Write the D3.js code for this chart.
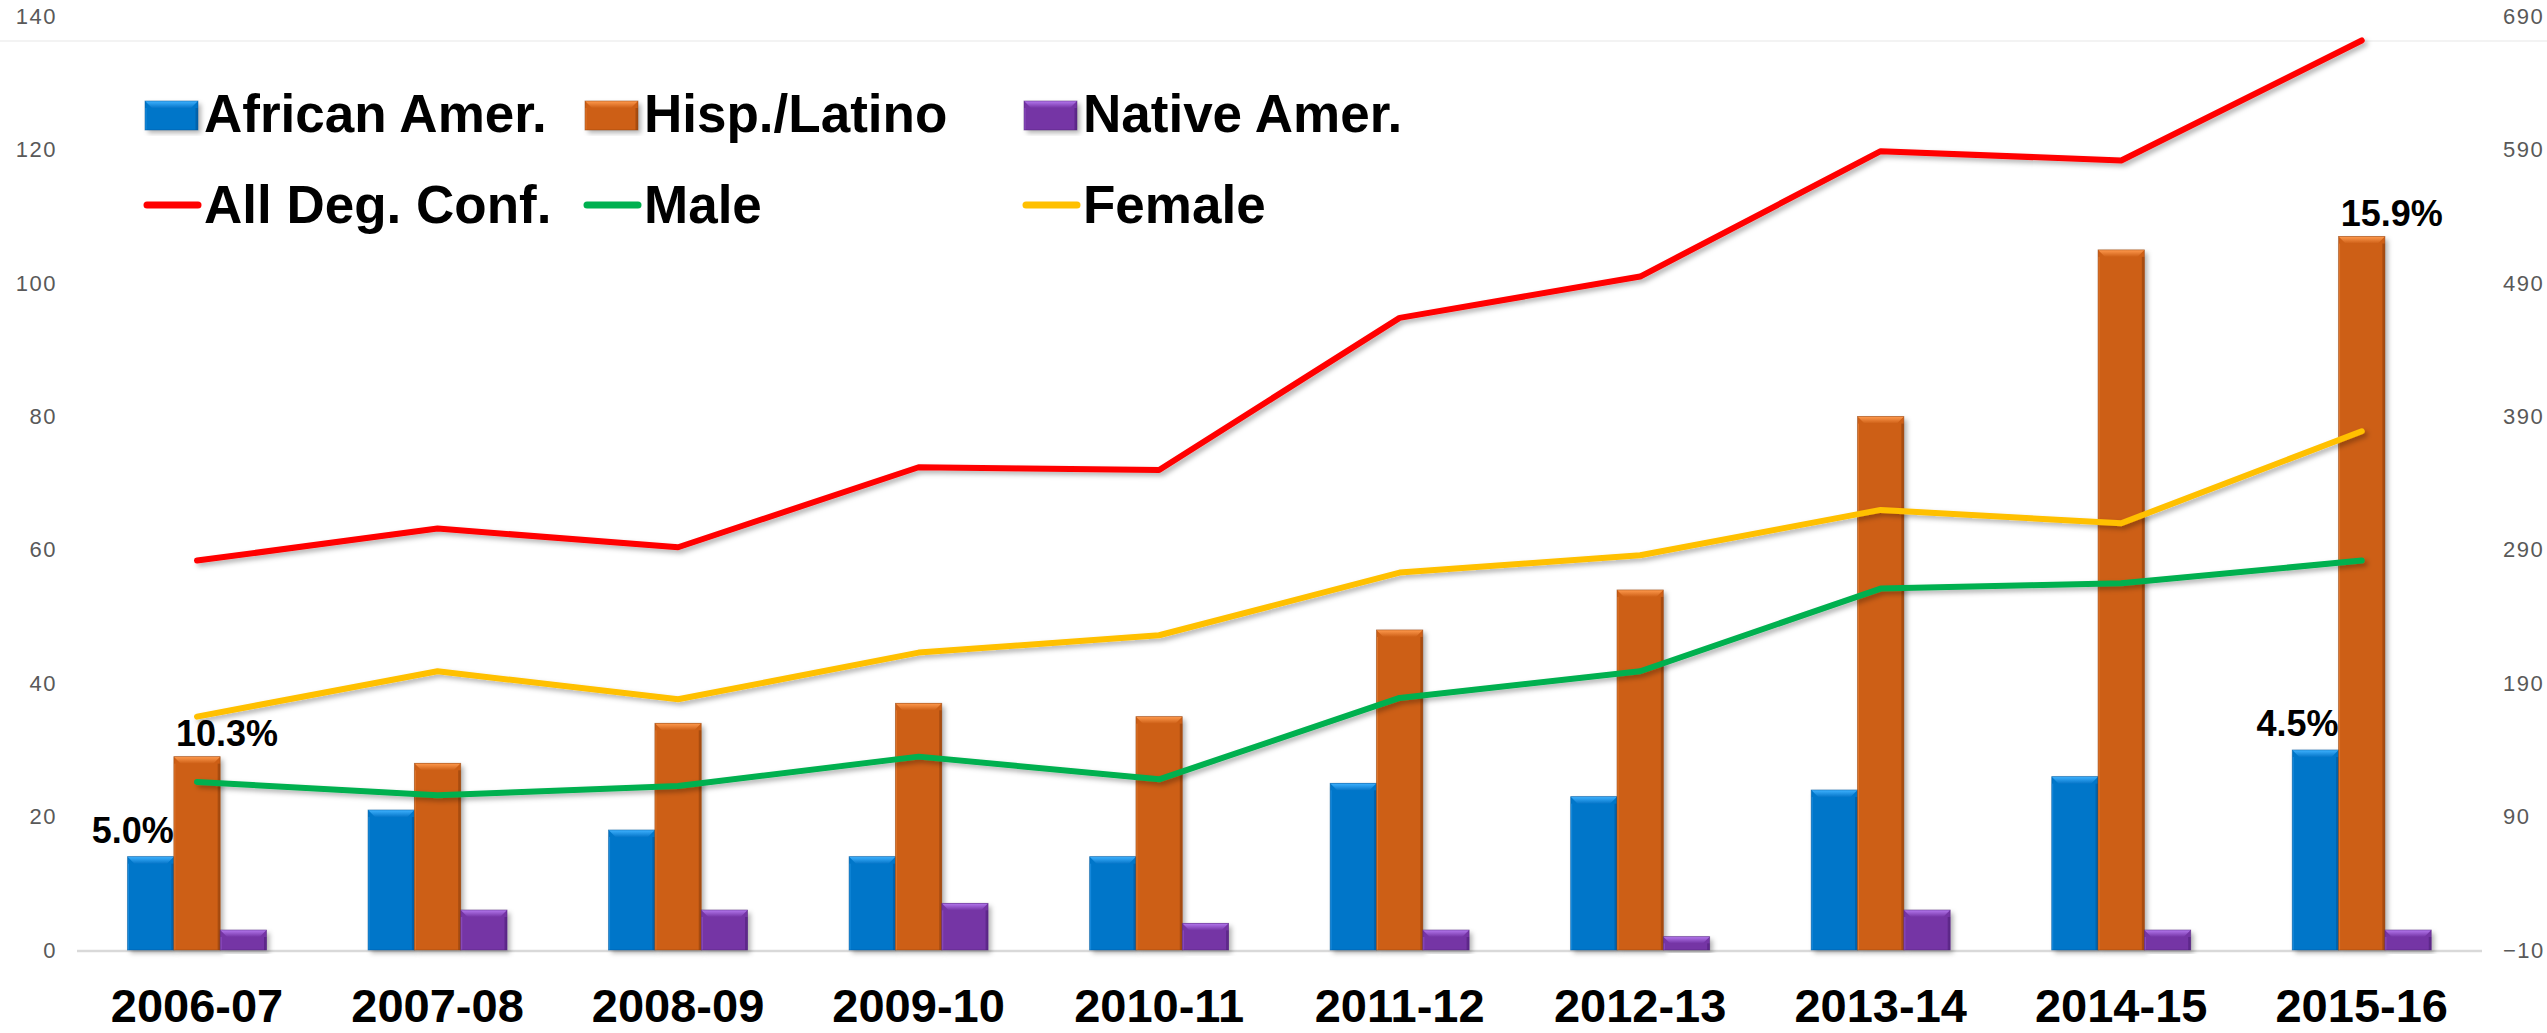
<!DOCTYPE html>
<html>
<head>
<meta charset="utf-8">
<script src="https://cdn.jsdelivr.net/npm/d3@7"></script>
<style>
  html, body { margin: 0; padding: 0; background: #fff; }
  svg { display: block; font-family: Arial, "Liberation Sans", sans-serif; }
</style>
</head>
<body>
<div id="chart"></div>
<script>
// Years on the x axis
const years = ['2006-07', '2007-08', '2008-09', '2009-10', '2010-11',
               '2011-12', '2012-13', '2013-14', '2014-15', '2015-16'];

// Bar series (left axis)
const africanAmer = [14, 21, 18, 14, 14, 25, 23, 24, 26, 30];
const hispLatino  = [29, 28, 34, 37, 35, 48, 54, 80, 105, 107];
const nativeAmer  = [3, 6, 6, 7, 4, 3, 2, 6, 3, 3];

// Line series (right axis)
const allDegConf = [282, 306, 292, 352, 350, 464, 495, 589, 582, 672];
const male       = [116, 106, 113, 135, 118, 179, 199, 261, 265, 282];
const female     = [165, 199, 178, 213, 226, 273, 286, 320, 310, 379];

// Tick labels
const leftTicks  = [0, 20, 40, 60, 80, 100, 120, 140];
const rightTicks = [-10, 90, 190, 290, 390, 490, 590, 690];

// Percentage labels on selected bars
const pctLabels = [
    { year: '2006-07', series: 'African Amer.', text: '5.0%' },
    { year: '2006-07', series: 'Hisp./Latino', text: '10.3%' },
    { year: '2015-16', series: 'African Amer.', text: '4.5%' },
    { year: '2015-16', series: 'Hisp./Latino', text: '15.9%' }
];

const barSeries = [
    { name: 'African Amer.', values: africanAmer, base: '#0676c9', light: '#3fb2ff', dark: '#04569a' },
    { name: 'Hisp./Latino', values: hispLatino, base: '#cd5f16', light: '#ff9a4e', dark: '#8f3f0c' },
    { name: 'Native Amer.', values: nativeAmer, base: '#7434a5', light: '#b478ee', dark: '#4f1f78' }
];
const lineSeries = [
    { name: 'All Deg. Conf.', values: allDegConf, color: '#ff0000' },
    { name: 'Male', values: male, color: '#00b050' },
    { name: 'Female', values: female, color: '#ffc000' }
];

const width = 2547, height = 1033;
const svg = d3.select('#chart').append('svg')
    .attr('width', width)
    .attr('height', height);

const defs = svg.append('defs');
const shadow = defs.append('filter').attr('id', 'shadow')
    .attr('x', '-10%').attr('y', '-10%').attr('width', '130%').attr('height', '130%');
shadow.append('feDropShadow')
    .attr('dx', 3).attr('dy', 3).attr('stdDeviation', 2.5)
    .attr('flood-color', '#000').attr('flood-opacity', 0.3);

barSeries.forEach((s, i) => {
    const g = defs.append('linearGradient').attr('id', 'top' + i)
        .attr('x1', 0).attr('y1', 0).attr('x2', 0).attr('y2', 1);
    g.append('stop').attr('offset', '0%').attr('stop-color', s.light);
    g.append('stop').attr('offset', '100%').attr('stop-color', s.base);
});

// Scales
const x0 = d3.scaleBand().domain(years).range([76.75, 2482]);
const x1 = d3.scaleBand().domain(barSeries.map(s => s.name)).range([-69.5, 69.5]);
const yLeft = d3.scaleLinear().domain([0, 140]).range([950, 16.5]);
const yRight = d3.scaleLinear().domain([-10, 690]).range([950, 16.5]);
const cx = d => x0(d) + x0.bandwidth() / 2;

// Faint top line
svg.append('line')
    .attr('x1', 0).attr('x2', width)
    .attr('y1', 41).attr('y2', 41)
    .attr('stroke', '#f3f3f3').attr('stroke-width', 2);

// Axes
const leftAxis = svg.append('g')
    .attr('transform', 'translate(60,0)')
    .call(d3.axisLeft(yLeft).tickValues(leftTicks).tickSize(0).tickPadding(3));
const rightAxis = svg.append('g')
    .attr('transform', 'translate(2500,0)')
    .call(d3.axisRight(yRight).tickValues(rightTicks).tickSize(0).tickPadding(3));
[leftAxis, rightAxis].forEach(a => {
    a.select('.domain').remove();
    a.selectAll('text')
        .style('font-family', 'Arial, "Liberation Sans", sans-serif')
        .style('font-size', '22px')
        .style('letter-spacing', '1.5px')
        .style('fill', '#595959');
});

// Baseline
svg.append('line')
    .attr('x1', 77).attr('x2', 2482)
    .attr('y1', 951).attr('y2', 951)
    .attr('stroke', '#d9d9d9').attr('stroke-width', 2.5);

// Bars with a bevel look
const bev = 7;
function drawBar(g, x, y, w, h, i) {
    const s = barSeries[i];
    const b = Math.min(bev, h / 2);
    g.append('rect').attr('x', x).attr('y', y).attr('width', w).attr('height', h)
        .attr('fill', s.base).attr('filter', 'url(#shadow)');
    g.append('path')
        .attr('d', `M${x},${y}L${x + w},${y}L${x + w - b},${y + b}L${x + b},${y + b}Z`)
        .attr('fill', `url(#top${i})`);
    g.append('rect').attr('x', x + w - 2.5).attr('y', y + b).attr('width', 2.5).attr('height', h - b)
        .attr('fill', s.dark).attr('opacity', 0.6);
    g.append('rect').attr('x', x).attr('y', y + b).attr('width', 1.5).attr('height', h - b)
        .attr('fill', s.light).attr('opacity', 0.35);
    g.append('rect').attr('x', x).attr('y', y).attr('width', w).attr('height', h)
        .attr('fill', 'none').attr('stroke', s.dark).attr('stroke-width', 0.8).attr('stroke-opacity', 0.6);
}

const barsG = svg.append('g');
years.forEach((yr, j) => {
    barSeries.forEach((s, i) => {
        const x = cx(yr) + x1(s.name);
        const y = yLeft(s.values[j]);
        drawBar(barsG, x, y, x1.bandwidth(), yLeft(0) - y, i);
    });
});

// Lines
const line = d3.line()
    .x((d, j) => cx(years[j]))
    .y(d => yRight(d));
lineSeries.forEach(s => {
    svg.append('path')
        .datum(s.values)
        .attr('d', line)
        .attr('fill', 'none')
        .attr('stroke', s.color)
        .attr('stroke-width', 6)
        .attr('stroke-linecap', 'round')
        .attr('stroke-linejoin', 'round')
        .attr('filter', 'url(#shadow)');
});

// Percentage labels
pctLabels.forEach(l => {
    const i = barSeries.findIndex(s => s.name === l.series);
    const j = years.indexOf(l.year);
    const x = cx(l.year) + x1(l.series);
    const y = yLeft(barSeries[i].values[j]);
    const isBlue = i === 0;
    svg.append('text')
        .attr('x', isBlue ? x + x1.bandwidth() : x + x1.bandwidth() / 2 + 30)
        .attr('y', y - (isBlue ? 14 : 11))
        .attr('text-anchor', isBlue ? 'end' : 'middle')
        .style('font-size', '36px')
        .style('font-weight', 'bold')
        .style('fill', '#000')
        .text(l.text);
});

// X labels
svg.append('g').selectAll('text')
    .data(years)
    .join('text')
    .attr('x', d => cx(d))
    .attr('y', 1022)
    .attr('text-anchor', 'middle')
    .style('font-size', '47px')
    .style('font-weight', 'bold')
    .style('fill', '#000')
    .text(d => d);

// Legend
const legendCols = [145, 585, 1024];
const legendRows = [115, 205];
const legend = svg.append('g');
barSeries.forEach((s, i) => {
    const lx = legendCols[i], ly = legendRows[0];
    const g = legend.append('g');
    drawBar(g, lx, ly - 14, 53, 29, i);
    g.append('text')
        .attr('x', lx + 59).attr('y', ly + 17)
        .style('font-size', '53px').style('font-weight', 'bold').style('fill', '#000')
        .text(s.name);
});
lineSeries.forEach((s, i) => {
    const lx = legendCols[i], ly = legendRows[1];
    legend.append('line')
        .attr('x1', lx + 2).attr('x2', lx + 53)
        .attr('y1', ly).attr('y2', ly)
        .attr('stroke', s.color).attr('stroke-width', 7).attr('stroke-linecap', 'round');
    legend.append('text')
        .attr('x', lx + 59).attr('y', ly + 18)
        .style('font-size', '53px').style('font-weight', 'bold').style('fill', '#000')
        .text(s.name);
});
</script>
</body>
</html>
